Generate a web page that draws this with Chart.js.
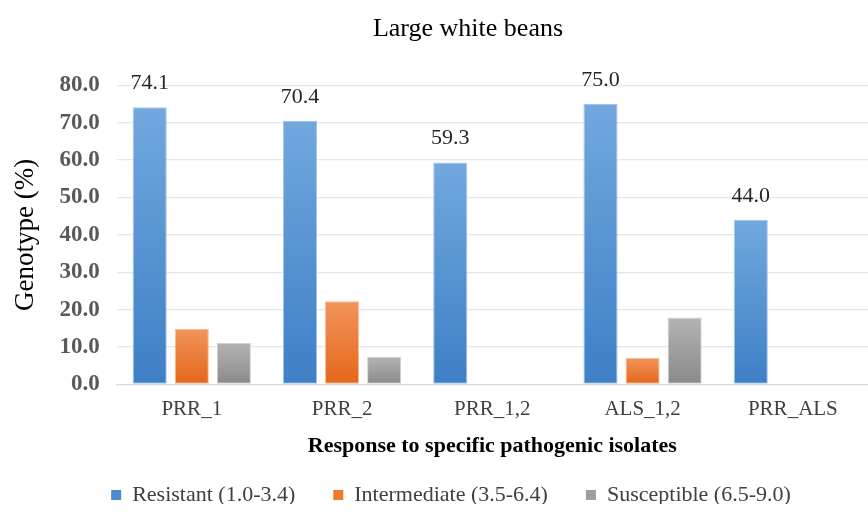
<!DOCTYPE html>
<html>
<head>
<meta charset="utf-8">
<script src="https://cdn.jsdelivr.net/npm/chart.js@4/dist/chart.umd.min.js"></script>
<style>
html,body{margin:0;padding:0;background:#fff;}
#wrap{width:868px;height:518px;position:relative;}
</style>
</head>
<body>
<div id="wrap"><canvas id="c" width="868" height="518"></canvas></div>
<script>
const categories = ["PRR_1", "PRR_2", "PRR_1,2", "ALS_1,2", "PRR_ALS"];
const resistant = [74.1, 70.4, 59.3, 75.0, 44.0];
const intermediate = [14.8, 22.2, 0, 7.1, 0];
const susceptible = [11.1, 7.4, 0, 17.9, 0];
const seriesNames = ["Resistant (1.0-3.4)", "Intermediate (3.5-6.4)", "Susceptible (6.5-9.0)"];
const yTicks = [0, 10, 20, 30, 40, 50, 60, 70, 80];
const chartTitle = "Large white beans";
const yTitle = "Genotype (%)";
const xTitle = "Response to specific pathogenic isolates";

const SERIF = "'Liberation Serif', 'Times New Roman', 'DejaVu Serif', serif";
const solid = ["#4a8bd0", "#ee7a2e", "#9e9e9e"];
const grad = [["#72a8de", "#3d7fc6"], ["#f2945a", "#e4671a"], ["#b3b3b3", "#8a8a8a"]];
const borders = ["rgba(150,190,235,0.9)", "rgba(248,180,140,0.9)", "rgba(205,205,205,0.9)"];

function barFill(i) {
  return function (ctx) {
    const chart = ctx.chart;
    const ys = chart.scales && chart.scales.y;
    if (!ys || ctx.type !== 'data' || ctx.raw == null) return solid[i];
    const top = ys.getPixelForValue(ctx.raw);
    const base = ys.getPixelForValue(0);
    if (!isFinite(top) || !isFinite(base) || base - top < 1) return solid[i];
    const g = chart.ctx.createLinearGradient(0, top, 0, base);
    g.addColorStop(0, grad[i][0]);
    g.addColorStop(1, grad[i][1]);
    return g;
  };
}

const valueLabels = {
  id: 'valueLabels',
  afterDatasetsDraw(chart) {
    const meta = chart.getDatasetMeta(0);
    const c = chart.ctx;
    c.save();
    c.font = "22px " + SERIF;
    c.fillStyle = "#262626";
    c.textAlign = "center";
    c.textBaseline = "middle";
    meta.data.forEach((bar, idx) => {
      c.fillText(resistant[idx].toFixed(1), bar.x, bar.y - 24);
    });
    c.restore();
  }
};

const shifter = {
  id: 'shifter',
  afterLayout(chart) {
    const t = chart.titleBlock;
    if (t) { t.left += 29; t.right += 29; }
    const l = chart.legend;
    if (l) { l.left += 12; l.right += 12; l.top -= 14; l.bottom -= 14; }
  }
};

const ds = [resistant, intermediate, susceptible].map((d, i) => ({
  label: seriesNames[i],
  data: d,
  backgroundColor: barFill(i),
  borderColor: borders[i],
  borderWidth: 1,
  borderSkipped: false,
  categoryPercentage: 0.84,
  barPercentage: 0.81
}));

new Chart(document.getElementById('c'), {
  type: 'bar',
  data: { labels: categories, datasets: ds },
  options: {
    responsive: false,
    animation: false,
    devicePixelRatio: 1,
    layout: { padding: { left: 10, right: 0, top: 0, bottom: 0 } },
    plugins: {
      title: {
        display: true,
        text: chartTitle,
        font: { family: SERIF, size: 26, weight: 'normal' },
        color: "#000",
        padding: { top: 14, bottom: 40 }
      },
      legend: {
        position: 'bottom',
        maxHeight: 58,
        labels: {
          font: { family: SERIF, size: 22 },
          color: "#404040",
          boxWidth: 10,
          boxHeight: 10,
          padding: 38,
          generateLabels(chart) {
            return seriesNames.map((n, i) => ({
              text: n, fillStyle: solid[i], strokeStyle: solid[i], lineWidth: 0,
              hidden: false, datasetIndex: i, fontColor: "#404040"
            }));
          }
        }
      },
      tooltip: { enabled: false }
    },
    scales: {
      x: {
        grid: { display: false, drawTicks: false },
        border: { display: true, color: "#d9d9d9", width: 1.3 },
        ticks: { font: { family: SERIF, size: 21 }, color: "#404040", padding: 12 },
        title: {
          display: true, text: xTitle,
          font: { family: SERIF, size: 22, weight: 'bold' },
          color: "#000", padding: { top: 0, bottom: 0 }
        }
      },
      y: {
        min: 0, max: 80,
        afterBuildTicks(axis) { axis.ticks = yTicks.map(v => ({ value: v })); },
        grid: { color: "#e3e6ea", lineWidth: 1.3, drawTicks: false },
        border: { display: false },
        ticks: {
          font: { family: SERIF, size: 23, weight: 'bold' },
          color: "#595959",
          padding: 17,
          callback: v => Number(v).toFixed(1)
        },
        title: {
          display: true, text: yTitle,
          font: { family: SERIF, size: 27 },
          color: "#000", padding: { top: 0, bottom: 0 }
        }
      }
    }
  },
  plugins: [valueLabels, shifter]
});
</script>
</body>
</html>
